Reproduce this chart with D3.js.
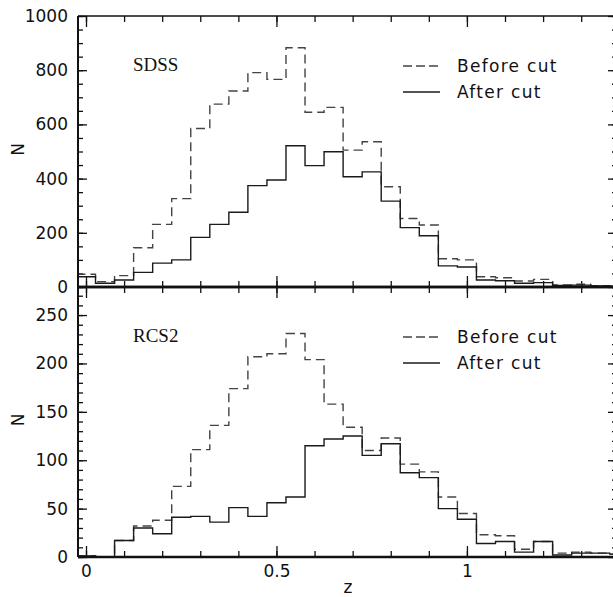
<!DOCTYPE html>
<html>
<head>
<meta charset="utf-8">
<script src="https://cdn.jsdelivr.net/npm/d3@7"></script>
<style>
  body { margin: 0; background: #fff; }
  svg { display: block; }
  .tick text { font-family: "DejaVu Sans", sans-serif; font-size: 17px; fill: #111; }
  .tick line { stroke: #111; stroke-width: 1.3; }
</style>
</head>
<body>
<svg width="613" height="597"></svg>
<script>
// bin centres (z), bin width 0.05
var binCentres = [0, 0.05, 0.1, 0.15, 0.2, 0.25, 0.3, 0.35, 0.4, 0.45, 0.5, 0.55, 0.6, 0.65, 0.7,
                  0.75, 0.8, 0.85, 0.9, 0.95, 1.0, 1.05, 1.1, 1.15, 1.2, 1.25, 1.3, 1.35, 1.4];
var binWidth = 0.05;

// SDSS counts
var sdssBefore = [47, 20, 42, 145, 231, 326, 585, 675, 723, 791, 766, 883, 645, 663, 505,
                  536, 370, 253, 229, 104, 100, 38, 34, 22, 28, 8, 10, 5, 3];
var sdssAfter  = [38, 14, 26, 54, 88, 100, 183, 231, 276, 374, 395, 521, 448, 499, 407,
                  425, 317, 219, 189, 78, 74, 26, 23, 14, 16, 6, 7, 4, 3];

// RCS2 counts
var rcsBefore = [1, 0, 17, 32, 38, 73, 111, 136, 174, 207, 210, 231, 204, 158, 134,
                 110, 123, 96, 88, 62, 45, 23, 22, 8, 16, 4, 5, 4, 3];
var rcsAfter  = [1, 0, 17, 30, 24, 41, 42, 36, 51, 42, 56, 62, 115, 122, 125,
                 105, 117, 87, 82, 50, 39, 14, 16, 5, 16, 2, 4, 4, 3];

var xTickLabels = [0, 0.5, 1];
var legendLabels = ["Before cut", "After cut"];

var svg = d3.select("svg");
var left = 78, right = 617;

var x = d3.scaleLinear().domain([-0.021, 1.394]).range([left, right]);

var panels = [
  { name: "SDSS", before: sdssBefore, after: sdssAfter, top: 16, bottom: 287, max: 1000,
    major: d3.range(0, 1001, 200), minor: d3.range(0, 1001, 50) },
  { name: "RCS2", before: rcsBefore, after: rcsAfter, top: 287, bottom: 557, max: 279,
    major: d3.range(0, 251, 50), minor: d3.range(0, 279, 10) }
];

svg.append("defs").append("clipPath").attr("id", "clip")
  .append("rect").attr("x", left).attr("y", 0).attr("width", right - left).attr("height", 597);

var xMinor = d3.range(0, 1.41, 0.1);
var xMajor = [0, 0.5, 1];

function stepPoints(vals) {
  var pts = [];
  vals.forEach(function(v, i) {
    pts.push([binCentres[i] - binWidth / 2, v]);
    pts.push([binCentres[i] + binWidth / 2, v]);
  });
  return pts;
}

panels.forEach(function(p, pi) {
  var y = d3.scaleLinear().domain([0, p.max]).range([p.bottom, p.top]);
  var g = svg.append("g");

  // y axes left (labels) and right
  g.append("g").attr("transform", "translate(" + left + ",0)")
    .call(d3.axisRight(y).tickValues(p.minor).tickSize(5).tickFormat(""));
  g.append("g").attr("transform", "translate(" + left + ",0)")
    .call(d3.axisRight(y).tickValues(p.major).tickSize(9).tickFormat(""));
  g.append("g").attr("transform", "translate(" + left + ",0)")
    .call(d3.axisLeft(y).tickValues(p.major).tickSize(0).tickPadding(10).tickFormat(d3.format("d")));
  g.append("g").attr("transform", "translate(" + right + ",0)")
    .call(d3.axisLeft(y).tickValues(p.minor).tickSize(5).tickFormat(""));
  g.append("g").attr("transform", "translate(" + right + ",0)")
    .call(d3.axisLeft(y).tickValues(p.major).tickSize(9).tickFormat(""));

  // x ticks: top side pointing down, bottom side pointing up
  g.append("g").attr("transform", "translate(0," + p.top + ")")
    .call(d3.axisBottom(x).tickValues(xMinor).tickSize(6).tickFormat(""));
  g.append("g").attr("transform", "translate(0," + p.top + ")")
    .call(d3.axisBottom(x).tickValues(xMajor).tickSize(11).tickFormat(""));
  g.append("g").attr("transform", "translate(0," + p.bottom + ")")
    .call(d3.axisTop(x).tickValues(xMinor).tickSize(6).tickFormat(""));
  g.append("g").attr("transform", "translate(0," + p.bottom + ")")
    .call(d3.axisTop(x).tickValues(xMajor).tickSize(11).tickFormat(""));

  g.selectAll(".domain").remove();

  var line = d3.line().x(function(d) { return x(d[0]); }).y(function(d) { return y(d[1]); });

  g.append("path").attr("clip-path", "url(#clip)")
    .attr("d", line(stepPoints(p.before)))
    .attr("fill", "none").attr("stroke", "#444").attr("stroke-width", 1.4)
    .attr("stroke-dasharray", "9,5");
  g.append("path").attr("clip-path", "url(#clip)")
    .attr("d", line(stepPoints(p.after)))
    .attr("fill", "none").attr("stroke", "#1a1a1a").attr("stroke-width", 1.4);

  // frame
  g.append("line").attr("x1", left).attr("x2", left).attr("y1", p.top).attr("y2", p.bottom)
    .attr("stroke", "#111").attr("stroke-width", 2);
  g.append("line").attr("x1", right).attr("x2", right).attr("y1", p.top).attr("y2", p.bottom)
    .attr("stroke", "#111").attr("stroke-width", 2);
  g.append("line").attr("x1", left).attr("x2", right).attr("y1", p.top).attr("y2", p.top)
    .attr("stroke", "#111").attr("stroke-width", pi === 0 ? 1.6 : 2.5);
  g.append("line").attr("x1", left).attr("x2", right).attr("y1", p.bottom).attr("y2", p.bottom)
    .attr("stroke", "#111").attr("stroke-width", 2.5);

  // panel name
  g.append("text").attr("x", 133).attr("y", p.top + 55)
    .attr("font-family", "Liberation Serif, serif").attr("font-size", 19).attr("fill", "#111")
    .text(p.name);

  // legend
  var ly = p.top + 50;
  legendLabels.forEach(function(lab, li) {
    var yy = ly + li * 26;
    g.append("line").attr("x1", 403).attr("x2", 440).attr("y1", yy).attr("y2", yy)
      .attr("stroke", li === 0 ? "#444" : "#1a1a1a").attr("stroke-width", 1.4)
      .attr("stroke-dasharray", li === 0 ? "9,4" : null);
    g.append("text").attr("x", 457).attr("y", yy + 6)
      .attr("font-family", "DejaVu Sans, sans-serif").attr("font-size", 17)
      .attr("letter-spacing", "1.3px").attr("fill", "#111")
      .text(lab);
  });

  // y label
  g.append("text")
    .attr("transform", "translate(18," + ((p.top + p.bottom) / 2 - 2) + ") rotate(-90)")
    .attr("text-anchor", "middle").attr("dy", "0.35em")
    .attr("font-family", "DejaVu Sans, sans-serif").attr("font-size", 17).attr("fill", "#111")
    .text("N");
});

// x tick labels under the lower panel
svg.append("g").attr("transform", "translate(0,557)")
  .call(d3.axisBottom(x).tickValues(xTickLabels).tickSize(0).tickPadding(8)
    .tickFormat(function(d) { return d === 0.5 ? "0.5" : d3.format("d")(d); }))
  .select(".domain").remove();

svg.append("text").attr("x", 348).attr("y", 593)
  .attr("text-anchor", "middle")
  .attr("font-family", "DejaVu Sans, sans-serif").attr("font-size", 17).attr("fill", "#111")
  .text("z");
</script>
</body>
</html>
